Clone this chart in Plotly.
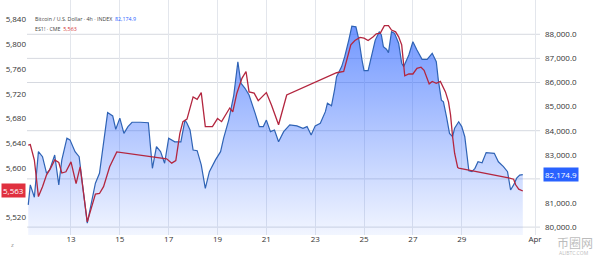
import plotly.graph_objects as go

# ---- Data ----
btc_times = [
    "2025-03-11 06:00", "2025-03-11 08:00", "2025-03-11 12:00", "2025-03-11 16:00", "2025-03-11 20:00",
    "2025-03-12 00:00", "2025-03-12 03:00", "2025-03-12 08:00", "2025-03-12 12:00", "2025-03-12 15:00",
    "2025-03-12 20:00", "2025-03-12 23:00", "2025-03-13 04:00", "2025-03-13 08:00", "2025-03-13 16:00",
    "2025-03-14 00:00", "2025-03-14 04:00", "2025-03-14 12:00", "2025-03-14 17:00", "2025-03-14 20:00",
    "2025-03-15 00:00", "2025-03-15 04:00", "2025-03-15 08:00", "2025-03-15 12:00", "2025-03-15 20:00",
    "2025-03-16 04:00", "2025-03-16 08:00", "2025-03-16 12:00", "2025-03-16 16:00", "2025-03-16 20:00",
    "2025-03-17 00:00", "2025-03-17 06:00", "2025-03-17 12:00", "2025-03-17 16:00", "2025-03-17 18:00",
    "2025-03-17 21:00", "2025-03-18 00:00", "2025-03-18 04:00", "2025-03-18 08:00", "2025-03-18 12:00",
    "2025-03-18 16:00", "2025-03-18 22:00", "2025-03-19 03:00", "2025-03-19 06:00", "2025-03-19 11:00",
    "2025-03-19 16:00", "2025-03-19 20:00", "2025-03-19 23:00", "2025-03-20 03:00", "2025-03-20 07:00",
    "2025-03-20 13:00", "2025-03-20 17:00", "2025-03-20 21:00", "2025-03-21 00:00", "2025-03-21 04:00",
    "2025-03-21 08:00", "2025-03-21 12:00", "2025-03-21 17:00", "2025-03-21 23:00", "2025-03-22 06:00",
    "2025-03-22 12:00", "2025-03-22 16:00", "2025-03-22 20:00", "2025-03-23 00:00", "2025-03-23 05:00",
    "2025-03-23 10:00", "2025-03-23 12:00", "2025-03-23 16:00", "2025-03-23 19:00", "2025-03-23 21:00",
    "2025-03-24 02:00", "2025-03-24 05:00", "2025-03-24 09:00", "2025-03-24 12:00", "2025-03-24 16:00",
    "2025-03-24 19:00", "2025-03-24 22:00", "2025-03-25 00:00", "2025-03-25 04:00", "2025-03-25 08:00",
    "2025-03-25 11:00", "2025-03-25 15:00", "2025-03-25 17:00", "2025-03-25 19:00", "2025-03-25 22:00",
    "2025-03-26 00:00", "2025-03-26 03:00", "2025-03-26 06:00", "2025-03-26 10:00", "2025-03-26 13:00",
    "2025-03-26 15:00", "2025-03-26 20:00", "2025-03-27 00:00", "2025-03-27 04:00", "2025-03-27 09:00",
    "2025-03-27 14:00", "2025-03-27 17:00", "2025-03-27 19:00", "2025-03-27 23:00", "2025-03-28 01:00",
    "2025-03-28 04:00", "2025-03-28 06:00", "2025-03-28 09:00", "2025-03-28 12:00", "2025-03-28 15:00",
    "2025-03-28 17:00", "2025-03-28 21:00", "2025-03-29 00:00", "2025-03-29 03:00", "2025-03-29 07:00",
    "2025-03-29 10:00", "2025-03-29 13:00", "2025-03-29 16:00", "2025-03-29 20:00", "2025-03-30 00:00",
    "2025-03-30 04:00", "2025-03-30 08:00", "2025-03-30 12:00", "2025-03-30 17:00", "2025-03-30 21:00",
    "2025-03-31 00:00", "2025-03-31 03:00", "2025-03-31 06:00", "2025-03-31 09:00", "2025-03-31 12:00",
]
btc_values = [
    80920, 81750, 81240, 83130, 82920,
    82230, 82370, 82990, 81750, 82790,
    83690, 83620, 83130, 82920, 80160,
    81820, 82230, 84750, 84610, 84060,
    84520, 83890, 84170, 84350, 84350,
    84330, 82440, 83340, 83130, 82650,
    83690, 83540, 83540, 84440, 84310,
    84030, 83200, 83170, 82580, 81610,
    82300, 82790, 83130, 83690, 84440,
    85480, 86860, 85970, 85760, 85480,
    84720, 84170, 84170, 84440, 83960,
    84030, 83540, 83960, 84240, 84200,
    84100, 84170, 83820, 84200, 84310,
    84790, 85140, 85030, 85690, 86240,
    86660, 87070, 87760, 88340, 88310,
    87760, 86930, 86490, 86490, 87210,
    87760, 88110, 87970, 87490, 87380,
    87240, 88110, 88040, 87630, 86800,
    86660, 87140, 87690, 87350, 86960,
    86960, 87100, 87210, 86860, 86100,
    85270, 85200, 84580, 83890, 83750,
    84100, 84370, 84170, 83750, 82340,
    82300, 82440, 82710, 82670, 83090,
    83090, 83060, 82710, 82510, 82300,
    81540, 81750, 82030, 82160, 82174.9,
]

es_times = [
    "2025-03-11 06:00", "2025-03-11 08:00", "2025-03-11 12:00", "2025-03-11 16:00", "2025-03-11 20:00",
    "2025-03-12 00:00", "2025-03-12 04:00", "2025-03-12 08:00", "2025-03-12 12:00", "2025-03-12 15:00",
    "2025-03-12 19:00", "2025-03-13 00:00", "2025-03-13 05:00", "2025-03-13 09:00", "2025-03-13 16:00",
    "2025-03-14 00:00", "2025-03-14 04:00", "2025-03-14 08:00", "2025-03-14 14:00", "2025-03-14 21:00",
    "2025-03-16 22:00", "2025-03-17 03:00", "2025-03-17 07:00", "2025-03-17 11:00", "2025-03-17 14:00",
    "2025-03-17 18:00", "2025-03-18 00:00", "2025-03-18 04:00", "2025-03-18 08:00", "2025-03-18 12:00",
    "2025-03-18 19:00", "2025-03-19 00:00", "2025-03-19 04:00", "2025-03-19 08:00", "2025-03-19 12:00",
    "2025-03-19 15:00", "2025-03-19 19:00", "2025-03-20 00:00", "2025-03-20 04:00", "2025-03-20 07:00",
    "2025-03-20 12:00", "2025-03-20 16:00", "2025-03-21 00:00", "2025-03-21 05:00", "2025-03-21 10:00",
    "2025-03-21 12:00", "2025-03-21 20:00", "2025-03-23 21:00", "2025-03-24 04:00", "2025-03-24 07:00",
    "2025-03-24 11:00", "2025-03-24 15:00", "2025-03-24 20:00", "2025-03-25 00:00", "2025-03-25 04:00",
    "2025-03-25 09:00", "2025-03-25 12:00", "2025-03-25 16:00", "2025-03-25 20:00", "2025-03-26 00:00",
    "2025-03-26 03:00", "2025-03-26 07:00", "2025-03-26 10:00", "2025-03-26 13:00", "2025-03-26 16:00",
    "2025-03-26 20:00", "2025-03-27 00:00", "2025-03-27 04:00", "2025-03-27 08:00", "2025-03-27 11:00",
    "2025-03-27 16:00", "2025-03-27 19:00", "2025-03-27 23:00", "2025-03-28 03:00", "2025-03-28 08:00",
    "2025-03-28 11:00", "2025-03-28 13:00", "2025-03-28 15:00", "2025-03-28 17:00", "2025-03-28 20:00",
    "2025-03-28 21:00", "2025-03-30 22:00", "2025-03-31 03:00", "2025-03-31 05:00", "2025-03-31 08:00",
    "2025-03-31 12:00",
]
es_values = [
    5637, 5638, 5613, 5554, 5570,
    5589, 5600, 5613, 5609, 5592,
    5594, 5610, 5575, 5602, 5513,
    5558, 5559, 5570, 5602, 5626,
    5615, 5608, 5612, 5656, 5675,
    5679, 5715, 5711, 5722, 5667,
    5667, 5680, 5675, 5686, 5697,
    5691, 5721, 5745, 5756, 5723,
    5721, 5709, 5722, 5702, 5680,
    5670, 5718, 5754, 5756, 5775,
    5799, 5806, 5811, 5810, 5806,
    5812, 5817, 5818, 5830, 5830,
    5823, 5820, 5812, 5799, 5749,
    5752, 5752, 5761, 5763, 5758,
    5736, 5740, 5737, 5740, 5723,
    5707, 5686, 5651, 5624, 5601,
    5600, 5584, 5582, 5573, 5566,
    5563,
]

x_tick_dates = ["2025-03-13", "2025-03-15", "2025-03-17", "2025-03-19", "2025-03-21",
                "2025-03-23", "2025-03-25", "2025-03-27", "2025-03-29", "2025-04-01"]
x_tick_labels = ["13", "15", "17", "19", "21", "23", "25", "27", "29", "Apr"]
btc_ticks = [80000, 81000, 83000, 84000, 85000, 86000, 87000, 88000]
es_ticks = [5520, 5600, 5640, 5680, 5720, 5760, 5800, 5840]
grid_levels = [80000, 82000, 84000, 86000, 87000, 88000]

btc_last = btc_values[-1]
es_last = es_values[-1]

BLUE_LINE = "#2F63B5"
RED_LINE = "#B3263F"
FONT = "Open Sans"

fig = go.Figure()

fig.add_trace(go.Scatter(
    x=btc_times, y=btc_values, yaxis="y", mode="lines",
    line=dict(color=BLUE_LINE, width=1.2),
    fill="tozeroy",
    fillgradient=dict(type="vertical", start=79672, stop=88600,
                      colorscale=[[0, "rgba(41,98,255,0.06)"], [1, "rgba(41,98,255,0.68)"]]),
    showlegend=False, hoverinfo="skip",
))
fig.add_trace(go.Scatter(
    x=es_times, y=es_values, yaxis="y2", mode="lines",
    line=dict(color=RED_LINE, width=1.3),
    showlegend=False, hoverinfo="skip",
))

shapes = []
for g in grid_levels:
    shapes.append(dict(type="line", xref="paper", x0=0, x1=1, yref="y", y0=g, y1=g,
                       line=dict(color="#D6D9E0", width=1), layer="below"))

annotations = [
    dict(xref="paper", yref="paper", x=0.012, y=1 - 19.3 / 235, xanchor="left", yanchor="middle",
         text="Bitcoin / U.S. Dollar · 4h · INDEX  <span style='color:#2962FF'>%s</span>" % f"{btc_last:,.1f}",
         showarrow=False, font=dict(family=FONT, size=5.3, color="#444")),
    dict(xref="paper", yref="paper", x=0.012, y=1 - 28.5 / 235, xanchor="left", yanchor="middle",
         text="ES1! · CME  <span style='color:#D32F2F'>%s</span>" % f"{es_last:,.0f}",
         showarrow=False, font=dict(family=FONT, size=5.3, color="#444")),
    # last-value labels on the scales
    dict(xref="paper", yref="y2", x=0, y=es_last, xanchor="right", yanchor="middle",
         text=f"{es_last:,.0f}", showarrow=False, bgcolor="#E0303F", borderpad=1,
         font=dict(family=FONT, size=8, color="white"), xshift=-1),
    dict(xref="paper", yref="y", x=1, y=btc_last, xanchor="left", yanchor="middle",
         text=f"{btc_last:,.1f}", showarrow=False, bgcolor="#2962FF", borderpad=1,
         font=dict(family=FONT, size=8, color="white"), xshift=3),
    # small icon at bottom-left
    dict(xref="paper", yref="paper", x=-0.029, y=-0.043, xanchor="center", yanchor="middle",
         text="z", showarrow=False, font=dict(family=FONT, size=6, color="#888")),
    # watermark
    dict(xref="paper", yref="paper", x=1.108, y=-0.034, xanchor="right", yanchor="middle",
         text="币圈网", showarrow=False, opacity=0.5,
         font=dict(family="Noto Sans CJK SC", size=12, color="#7A7A7A")),
    dict(xref="paper", yref="paper", x=1.1, y=-0.077, xanchor="right", yanchor="middle",
         text="ALIBTC.COM", showarrow=False, opacity=0.5,
         font=dict(family=FONT, size=5, color="#7A7A7A")),
]

axis_common = dict(zeroline=False, showline=False, ticks="", automargin=False,
                   tickfont=dict(family=FONT, size=8, color="#333"))

fig.update_layout(
    width=600, height=256,
    margin=dict(l=27, r=60, t=0, b=21),
    paper_bgcolor="white", plot_bgcolor="white",
    font=dict(family=FONT, size=8, color="#333"),
    xaxis=dict(
        type="date", range=["2025-03-11 04:46", "2025-04-01 04:55"],
        tickvals=x_tick_dates, ticktext=x_tick_labels,
        showgrid=True, gridcolor="#E3E6EC", gridwidth=1,
        ticklabelstandoff=-2, **axis_common,
    ),
    yaxis=dict(
        side="right", range=[79672, 89423],
        tickvals=btc_ticks, tickformat=",.1f",
        showgrid=False, ticklabelstandoff=4, **axis_common,
    ),
    yaxis2=dict(
        overlaying="y", side="left", range=[5491.9, 5871.5],
        tickvals=es_ticks, tickformat=",d",
        showgrid=False, **axis_common,
    ),
    shapes=shapes,
    annotations=annotations,
)

fig.write_html("out.html",
               config={"displayModeBar": False, "staticPlot": True},
               post_script="document.body.style.margin='0px';document.body.style.overflow='hidden';")
